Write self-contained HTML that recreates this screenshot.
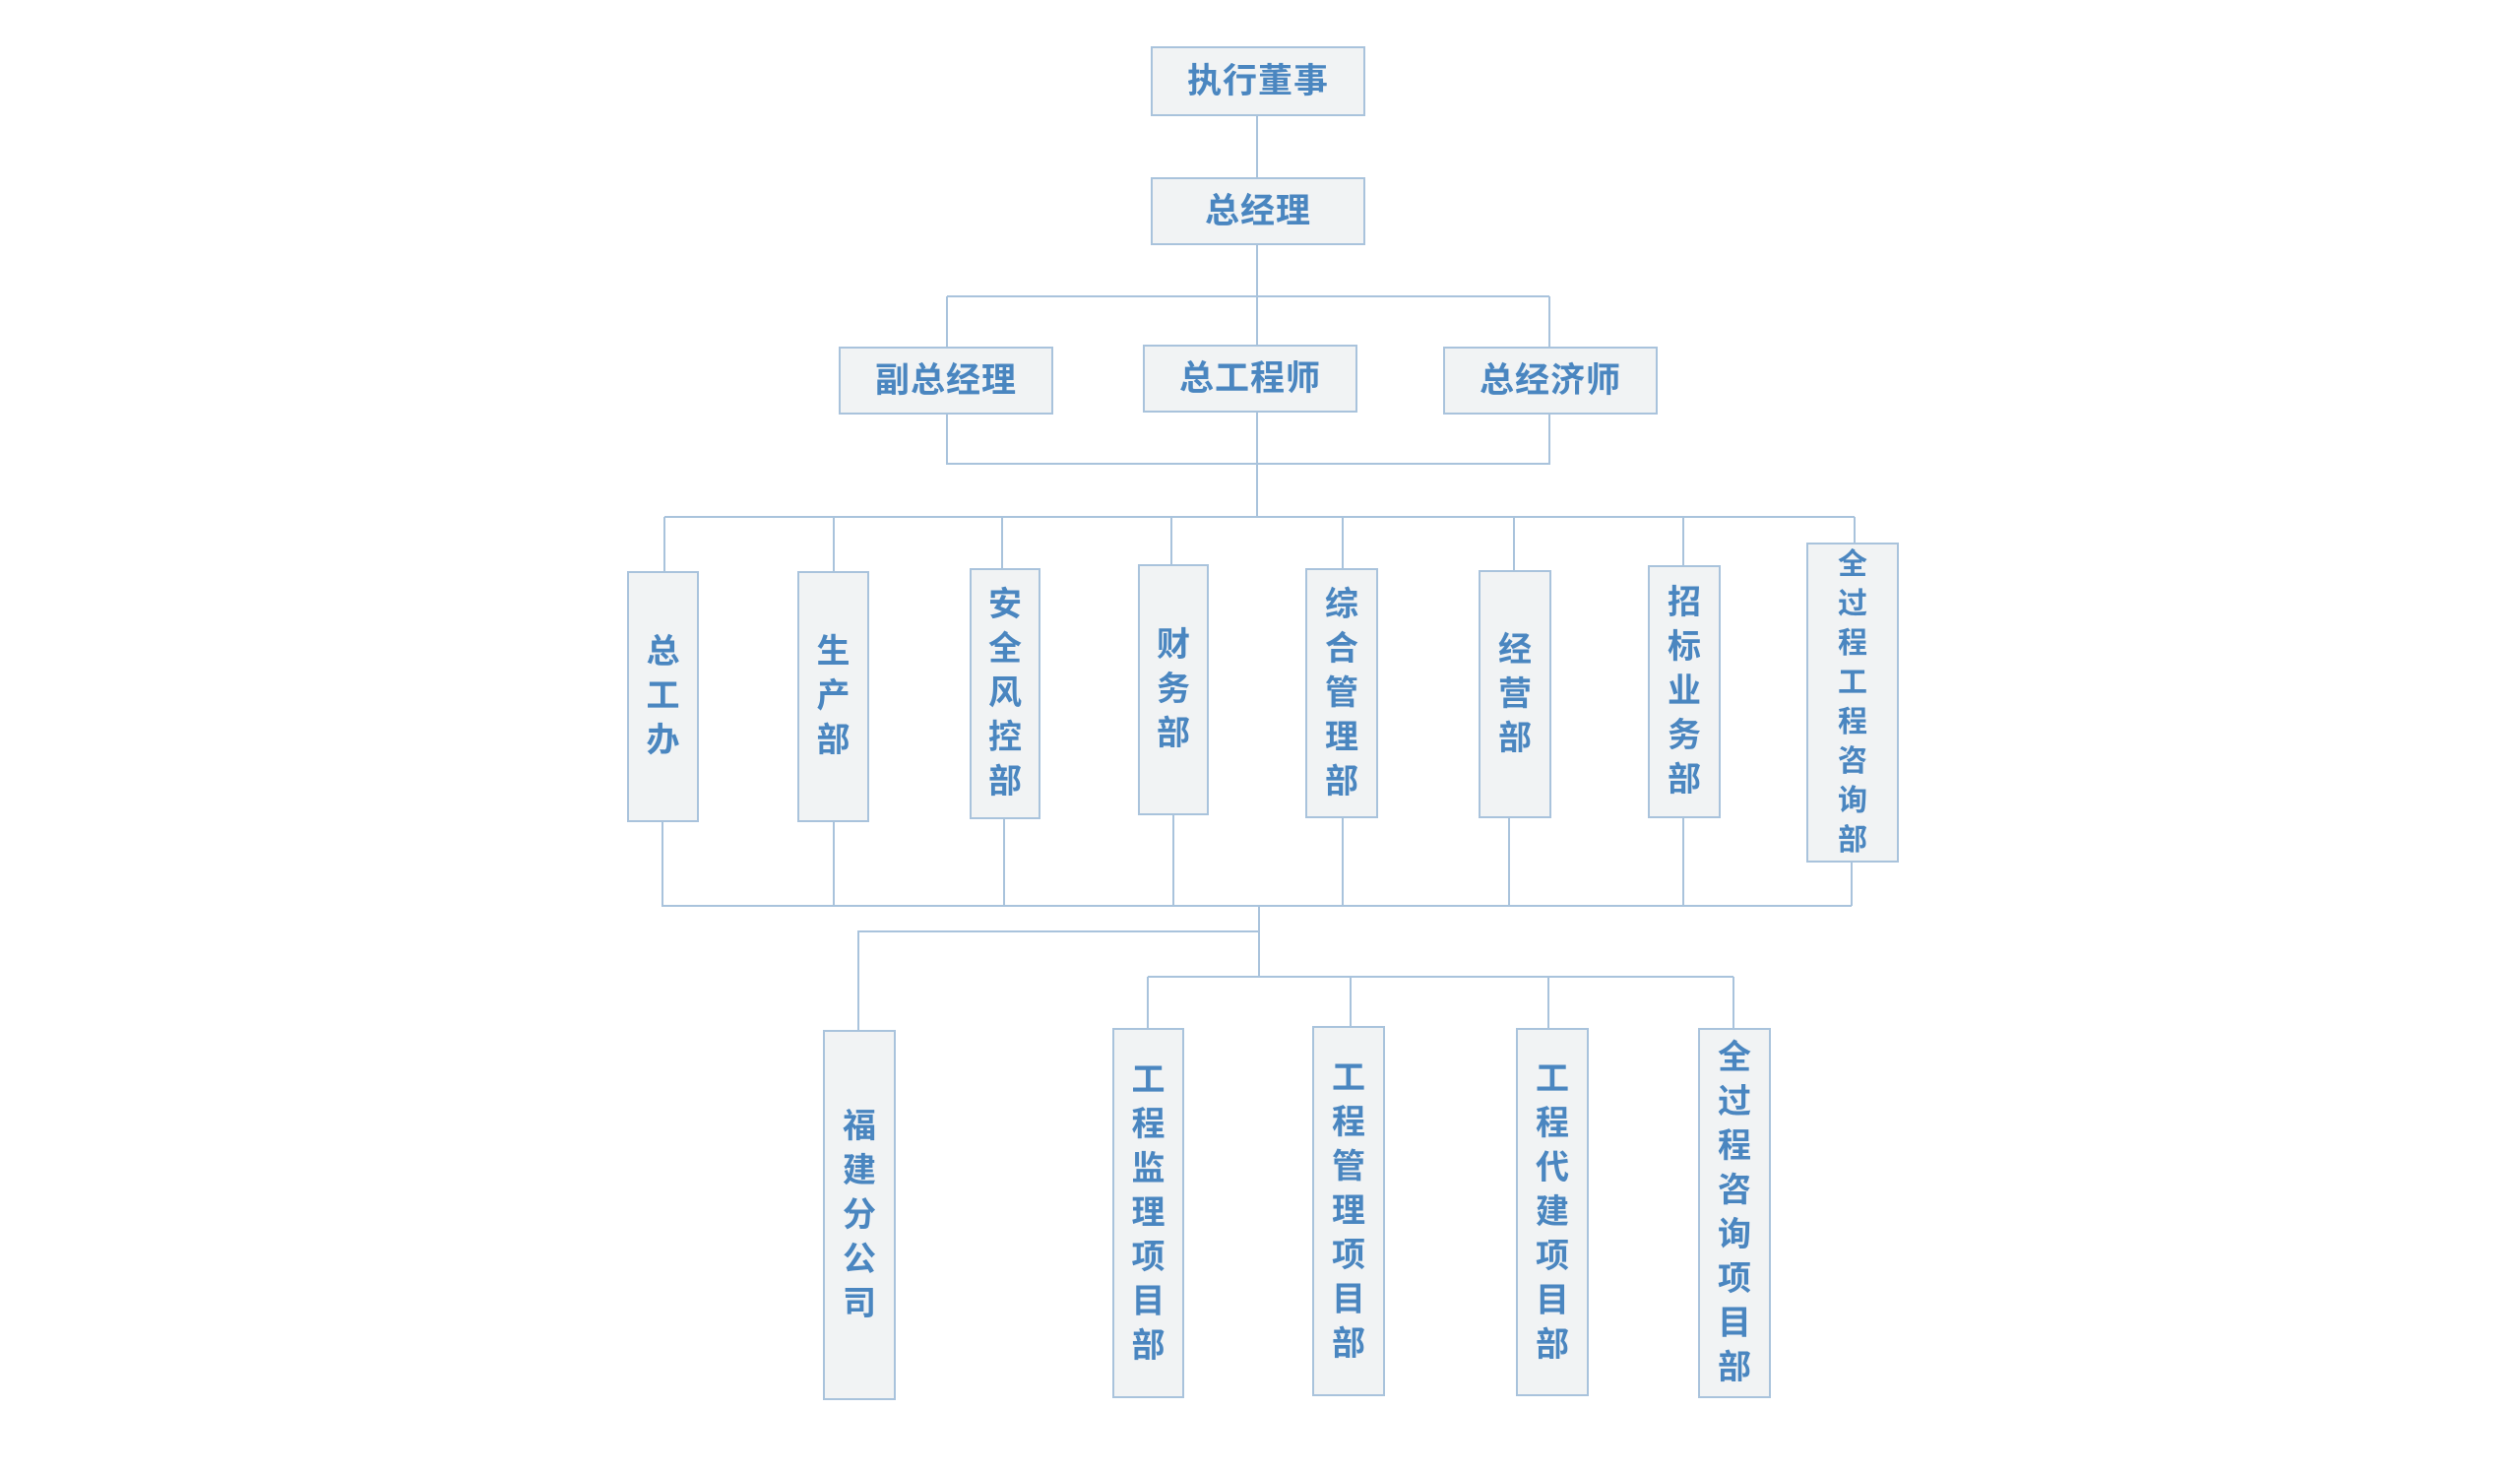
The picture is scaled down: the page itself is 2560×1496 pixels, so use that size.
<!DOCTYPE html>
<html><head><meta charset="utf-8"><style>
html,body{margin:0;padding:0;background:#fff;}
#c{position:relative;width:2560px;height:1496px;overflow:hidden;}
#w{position:absolute;left:-6px;top:1px;width:2560px;height:1496px;}
.b{position:absolute;box-sizing:border-box;background:#f1f3f4;border:2px solid #a9c3dc;display:flex;align-items:center;justify-content:center;text-align:center;color:#4a86c0;font-family:"Liberation Sans","Noto Sans CJK SC",sans-serif;font-weight:bold;font-size:34px;line-height:45px;}
.h{font-size:35px;letter-spacing:1px;}
.s{font-size:30px;line-height:40px;}
svg{position:absolute;left:0;top:0;}
</style></head><body><div id="c"><div id="w">
<svg width="2560" height="1496" stroke="#a9c3dc" stroke-width="2" fill="none">
<path d="M1283 117V179M1283 248V349M968 300H1580M968 300V351M1580 300V351M968 420V470H1580V420M1283 418V524M681 524H1890M681 524V579M853 524V579M1024 524V576M1196 524V572M1370 524V576M1544 524V578M1716 524V573M1890 524V550"/>
<path d="M679 834V919H1887M853 834V919M1026 831V919M1198 827V919M1370 830V919M1539 830V919M1716 830V919M1887 875V919M1285 919V991M1285 945H878V1045M1172 991H1767M1172 991V1043M1378 991V1041M1579 991V1043M1767 991V1043"/>
</svg>
<div class="b h" style="left:1175px;top:46px;width:218px;height:71px">执行董事</div>
<div class="b h" style="left:1175px;top:179px;width:218px;height:69px">总经理</div>
<div class="b h" style="left:858px;top:351px;width:218px;height:69px">副总经理</div>
<div class="b h" style="left:1167px;top:349px;width:218px;height:69px">总工程师</div>
<div class="b h" style="left:1472px;top:351px;width:218px;height:69px">总经济师</div>

<div class="b" style="left:643px;top:579px;width:73px;height:255px">总<br>工<br>办</div>
<div class="b" style="left:816px;top:579px;width:73px;height:255px">生<br>产<br>部</div>
<div class="b" style="left:991px;top:576px;width:72px;height:255px">安<br>全<br>风<br>控<br>部</div>
<div class="b" style="left:1162px;top:572px;width:72px;height:255px">财<br>务<br>部</div>
<div class="b" style="left:1332px;top:576px;width:74px;height:254px">综<br>合<br>管<br>理<br>部</div>
<div class="b" style="left:1508px;top:578px;width:74px;height:252px">经<br>营<br>部</div>
<div class="b" style="left:1680px;top:573px;width:74px;height:257px">招<br>标<br>业<br>务<br>部</div>
<div class="b s" style="left:1841px;top:550px;width:94px;height:325px">全<br>过<br>程<br>工<br>程<br>咨<br>询<br>部</div>

<div class="b" style="left:842px;top:1045px;width:74px;height:376px">福<br>建<br>分<br>公<br>司</div>
<div class="b" style="left:1136px;top:1043px;width:73px;height:376px">工<br>程<br>监<br>理<br>项<br>目<br>部</div>
<div class="b" style="left:1339px;top:1041px;width:74px;height:376px">工<br>程<br>管<br>理<br>项<br>目<br>部</div>
<div class="b" style="left:1546px;top:1043px;width:74px;height:374px">工<br>程<br>代<br>建<br>项<br>目<br>部</div>
<div class="b" style="left:1731px;top:1043px;width:74px;height:376px">全<br>过<br>程<br>咨<br>询<br>项<br>目<br>部</div>
</div></div></body></html>
